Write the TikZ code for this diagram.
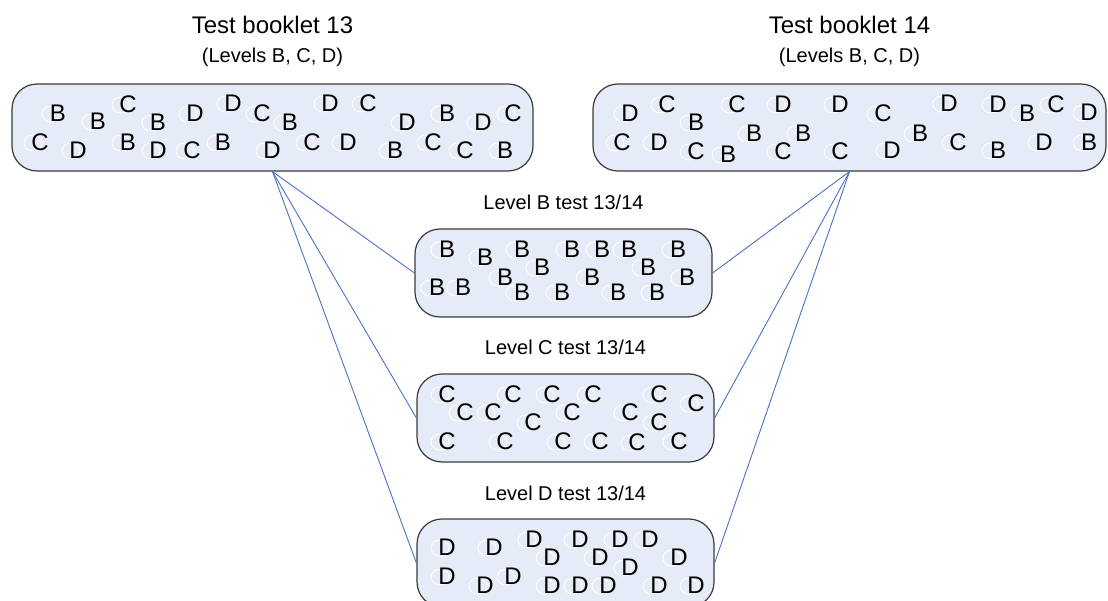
\documentclass[tikz,border=0pt]{standalone}
\usepackage{fontspec}
\setmainfont{Liberation Sans}
\definecolor{boxfill}{HTML}{E6ECF7}
\definecolor{boxline}{HTML}{3A3A3A}
\definecolor{conn}{HTML}{4A72C4}
\tikzset{
  booklet/.style={draw=boxline, fill=boxfill, line width=1.2pt, rounded corners=25pt, inner sep=0pt, minimum height=87pt},
  lt/.style={font=\fontsize{24}{24}\selectfont, inner sep=0pt},
  bubble/.style={draw=white, line width=0.8pt},
  titletext/.style={font=\fontsize{24}{24}\selectfont, inner sep=0pt, anchor=base},
  subtext/.style={font=\fontsize{20}{20}\selectfont, inner sep=0pt, anchor=base},
  link/.style={draw=conn, line width=0.9pt}
}
\begin{document}
\begin{tikzpicture}[x=1pt,y=-1pt]
\useasboundingbox (0,0) rectangle (1108,601);
\clip (0,0) rectangle (1108,601);

% titles
\node[titletext] (t13) at (272.5,34) {Test booklet 13};
\node[subtext] (s13) at (272.5,63) {(Levels B, C, D)};
\node[titletext] (t14) at (849.5,34) {Test booklet 14};
\node[subtext] (s14) at (849.5,63) {(Levels B, C, D)};
\node[subtext] (lb) at (563.5,210) {Level B test 13/14};
\node[subtext] (lc) at (565.5,355) {Level C test 13/14};
\node[subtext] (ld) at (565.5,500) {Level D test 13/14};

% boxes
\node[booklet, minimum width=521pt] (b13) at (272.5,127.5) {};
\node[booklet, minimum width=513pt] (b14) at (849.5,127.5) {};
\node[booklet, minimum width=297pt, minimum height=88pt] (bB) at (563.5,273) {};
\node[booklet, minimum width=297pt, minimum height=88pt] (bC) at (565.5,418) {};
\node[booklet, minimum width=297pt, minimum height=88pt] (bD) at (565.5,563) {};

% connectors
\foreach \t in {bB,bC,bD} {
  \draw[link] (b13.south) -- (\t.west);
  \draw[link] (b14.south) -- (\t.east);
}

% letters
\foreach \x/\y/\l [count=\i] in {58/113/B, 98/121/B, 128/104/C, 158/122/B, 195/113/D, 233/103/D, 262/113/C, 290/122/B, 330/103/D, 368/103/C, 407/122/D, 447/113/B, 483/122/D, 513/113/C,
40/142/C, 78/150/D, 128/142/B, 158/150/D, 192/150/C, 223/142/B, 272/150/D, 312/142/C, 348/142/D, 395/150/B, 433/142/C, 465/150/C, 505/150/B} {
  \draw[bubble] (\x-7,\y+1) ellipse [x radius=9, y radius=8];
  \node[lt] (p\i) at (\x,\y) {\l};
}
\foreach \x/\y/\l [count=\i] in {630/113/D, 667/104/C, 696/122/B, 737/104/C, 783/104/D, 840/104/D, 883/113/C, 949/103/D, 998/104/D, 1027/113/B, 1056/104/C, 1089/112/D,
622/142/C, 659/142/D, 696/151/C, 728/154/B, 754/133/B, 783/151/C, 803/133/B, 840/151/C, 892/150/D, 920/133/B, 958/142/C, 998/150/B, 1044/142/D, 1089/142/B} {
  \draw[bubble] (\x-7,\y+1) ellipse [x radius=9, y radius=8];
  \node[lt] (q\i) at (\x,\y) {\l};
}
\foreach \x/\y [count=\i] in {447/249, 485/257, 522/249, 542/267, 572/249, 602/249, 629/249, 648/267, 678/249,
437/287, 463/287, 505/277, 522/292, 562/292, 592/277, 618/292, 657/292, 687/277} {
  \draw[bubble] (\x-7,\y+1) ellipse [x radius=9, y radius=8];
  \node[lt] (r\i) at (\x,\y) {B};
}
\foreach \x/\y [count=\i] in {447/394, 465/412, 493/412, 513/394, 533/422, 552/394, 572/412, 593/394, 630/412, 659/394, 659/422, 696/403,
447/441, 505/441, 563/441, 600/441, 637/442, 679/441} {
  \draw[bubble] (\x-7,\y+1) ellipse [x radius=9, y radius=8];
  \node[lt] (s\i) at (\x,\y) {C};
}
\foreach \x/\y [count=\i] in {447/547, 494/547, 534/539, 552/557, 580/539, 600/557, 620/539, 650/539, 630/567, 679/557,
447/576, 485/585, 513/576, 552/585, 580/585, 608/585, 659/585, 696/585} {
  \draw[bubble] (\x-7,\y+1) ellipse [x radius=9, y radius=8];
  \node[lt] (u\i) at (\x,\y) {D};
}
\end{tikzpicture}
\end{document}
